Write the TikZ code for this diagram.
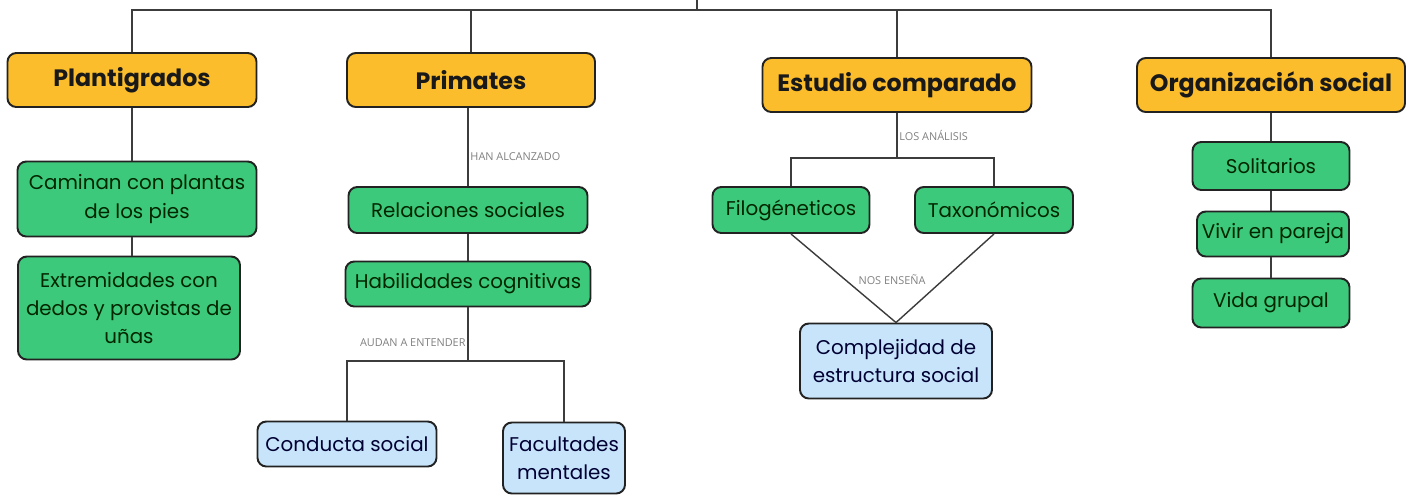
\documentclass[tikz,border=0pt]{standalone}
\usepackage{fontspec}
\setmainfont{Poppins}
\newfontfamily\etiqfont{Open Sans}
\definecolor{amarillo}{HTML}{FBBD2C}
\definecolor{verde}{HTML}{3DC97B}
\definecolor{celeste}{HTML}{C7E4FA}
\definecolor{borde}{HTML}{222222}
\definecolor{trazo}{HTML}{3C3C3C}
\tikzset{
  caja/.style={draw=borde, line width=1.1pt, rounded corners=5pt, inner sep=1pt, align=center},
  cat/.style={caja, fill=amarillo, text=black!90, font=\fontsize{13.5}{16}\selectfont\bfseries},
  idea/.style={caja, fill=verde, text=black!85!green, font=\fontsize{11.3}{16}\selectfont},
  nota/.style={caja, fill=celeste, text=black!80!blue, font=\fontsize{11.3}{16}\selectfont},
  etiq/.style={text=black!50, inner sep=1pt, font=\etiqfont\fontsize{6.2}{7}\selectfont},
  tam/.style 2 args={minimum width=#1*0.02cm, minimum height=#2*0.02cm},
  linea/.style={draw=trazo, line width=0.8pt}
}
\begin{document}
\begin{tikzpicture}[x=0.02cm, y=-0.02cm]
\useasboundingbox (0,0) rectangle (1418,495);
%categorias
\node[cat, tam={249}{54}] (plan) at (132,80) {Plantigrados};
\node[cat, tam={248}{54}] (prim) at (471,80) {Primates};
\node[cat, tam={269}{54}] (est) at (897,85) {Estudio comparado};
\node[cat, tam={268}{54}] (org) at (1271,85) {Organización social};
\coordinate (cima) at (697,0);
\coordinate (barra) at (697,10);
\draw[linea] (cima) -- (barra);
\draw[linea] (plan.north) -- (plan.north |- barra) -- (org.north |- barra) -- (org.north);
\draw[linea] (prim.north) -- (prim.north |- barra);
\draw[linea] (est.north) -- (est.north |- barra);

%plantigrados
\node[idea, tam={239}{75}] (cam) at (137,199) {Caminan con plantas\\de los pies};
\node[idea, tam={222}{103}] (ext) at (129,308) {Extremidades con\\dedos y provistas de\\uñas};
\draw[linea] (plan.south) -- (plan.south |- cam.north);
\draw[linea] (plan.south |- cam.south) -- (plan.south |- ext.north);

%primates
\node[idea, tam={239}{46}] (rel) at (468,210) {Relaciones sociales};
\node[idea, tam={245}{45}] (hab) at (468,284) {Habilidades cognitivas};
\node[nota, tam={179}{45}] (cond) at (347,444) {Conducta social};
\node[nota, tam={122}{71}] (fac) at (564,458) {Facultades\\mentales};
\coordinate (rama) at (468,361);
\draw[linea] (rel.north |- prim.south) -- (rel.north) node[etiq, pos=0.62, right] (alc) {HAN ALCANZADO};
\draw[linea] (rel.south) -- (hab.north);
\draw[linea] (hab.south) -- (rama) node[etiq, pos=0.65, left] (aud) {AUDAN A ENTENDER};
\draw[linea] (cond.north) |- (rama) -| (fac.north);

%estudio comparado
\node[idea, tam={157}{46}] (filo) at (791,210) {Filogéneticos};
\node[idea, tam={158}{46}] (taxo) at (994,210) {Taxonómicos};
\node[nota, tam={192}{75}] (comp) at (896,361) {Complejidad de\\estructura social};
\coordinate (bif) at (897,158);
\draw[linea] (est.south) -- (bif) node[etiq, pos=0.5, right] (ana) {LOS ANÁLISIS};
\draw[linea] (filo.north) |- (bif) -| (taxo.north);
\draw[linea] (filo.south) -- (comp.north) -- (taxo.south);
\node[etiq] (ens) at (892,280) {NOS ENSEÑA};

%organizacion social
\node[idea, tam={157}{48}] (sol) at (1271,166) {Solitarios};
\node[idea, tam={152}{45}] (viv) at (1273,234) {Vivir en pareja};
\node[idea, tam={157}{49}] (vida) at (1271,303) {Vida grupal};
\draw[linea] (org.south) -- (org.south |- sol.north);
\draw[linea] (org.south |- sol.south) -- (org.south |- viv.north);
\draw[linea] (org.south |- viv.south) -- (org.south |- vida.north);
\end{tikzpicture}
\end{document}
